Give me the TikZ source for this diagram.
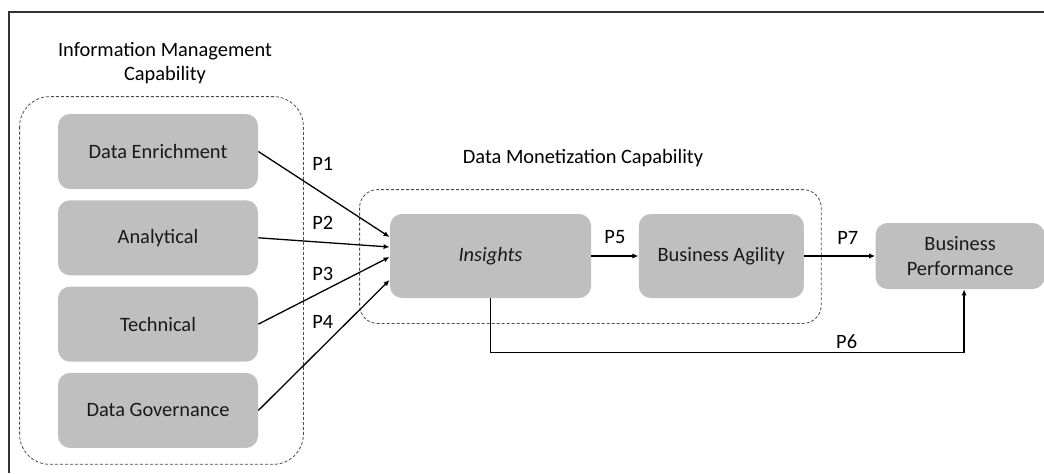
\documentclass[tikz,border=0pt]{standalone}
\usepackage{fontspec}
\setmainfont{Carlito}
\usetikzlibrary{positioning,arrows.meta}

\begin{document}
\begin{tikzpicture}[
    x=0.5pt, y=-0.5pt,
    font=\fontsize{10.2}{12.4}\selectfont,
    box/.style={rectangle, rounded corners=6pt, fill=black!25, text=black!90, minimum width=100pt, minimum height=37.5pt, text centered},
    group/.style={draw=black!70, dash pattern=on 1.5pt off 1pt, line width=0.4pt},
    arrow/.style={-{Latex[length=3pt,width=2.6pt]}, line width=0.65pt},
    plabel/.style={inner sep=0pt}
]
    \useasboundingbox (0,0) rectangle (1044,473);
    \draw[line width=1.4pt, black!80] (1044,12) -- (9,12) -- (9,473);

    \node[box] (enrich) at (158,151.5) {Data Enrichment};
    \node[box, below=5.25pt of enrich] (analyt) {Analytical};
    \node[box, below=5.25pt of analyt] (techn) {Technical};
    \node[box, below=5.25pt of techn] (govern) {Data Governance};

    \node[box, minimum width=100.5pt, minimum height=42pt] (ins) at (490.5,256) {\itshape Insights};
    \node[box, minimum width=82.5pt, minimum height=42pt, right=23.5pt of ins] (agility) {Business Agility};
    \node[box, minimum width=84.5pt, minimum height=33pt, align=center, right=35.5pt of agility] (perf) {Business\\Performance};

    \draw[group, rounded corners=15pt] ([xshift=-19pt,yshift=8.5pt]enrich.north west) rectangle ([xshift=22.5pt,yshift=-8pt]govern.south east);
    \draw[group, rounded corners=9pt] ([xshift=-15pt,yshift=12pt]ins.north west) rectangle ([xshift=8.5pt,yshift=-12.5pt]agility.south east);

    \node[align=center] (imc) at (165,63) {Information Management\\Capability};
    \node (dmc) at (583,158) {Data Monetization Capability};

    \draw[arrow] (enrich.east) -- node[plabel, pos=0.49, yshift=14.5pt] (p1) {P1} ([yshift=9.5pt]ins.west);
    \draw[arrow] (analyt.east) -- node[plabel, pos=0.49, yshift=9.75pt] (p2) {P2} ([yshift=4.5pt]ins.west);
    \draw[arrow] (techn.east) -- node[plabel, pos=0.49, yshift=8.75pt] (p3) {P3} ([yshift=-0.5pt]ins.west);
    \draw[arrow] (govern.east) -- node[plabel, pos=0.49, yshift=12.5pt] (p4) {P4} ([yshift=-12pt]ins.west);

    \draw[arrow] (ins.east) -- node[plabel, yshift=9.5pt] (p5) {P5} (agility.west);
    \draw[arrow] (agility.east) -- node[plabel, xshift=4pt, yshift=9pt] (p7) {P7} (perf.west);
    \draw[arrow] (ins.south) -- ++(0,54) -| node[plabel, pos=0.376, yshift=5.5pt] (p6) {P6} ([xshift=2pt]perf.south);
\end{tikzpicture}
\end{document}
